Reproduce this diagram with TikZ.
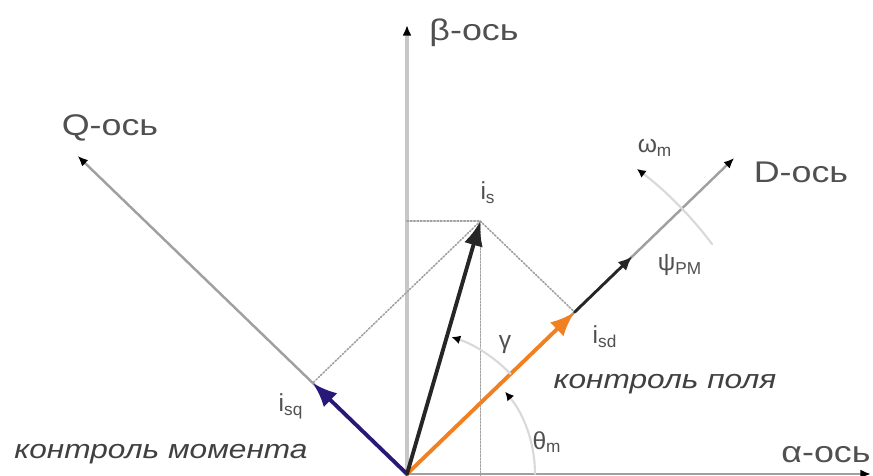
\documentclass[tikz,border=0pt]{standalone}
\usepackage{fontspec}
\setmainfont{Liberation Sans}
\usetikzlibrary{arrows.meta,calc}
\definecolor{isdorange}{RGB}{240,128,32}
\definecolor{isqnavy}{RGB}{40,24,120}
\definecolor{axisgray}{RGB}{160,160,160}
\definecolor{lblgray}{RGB}{80,80,80}

\begin{document}
\begin{tikzpicture}[x=0.02cm,y=0.02cm,line cap=round,line join=round,
  axis/.style={draw=axisgray,line width=1.4pt,-{Latex[black,length=6pt,width=5pt]}},
  vec/.style={line width=2.2pt,-{Latex[length=14pt,width=11pt]}},
  proj/.style={draw=axisgray,line width=0.9pt,densely dotted},
  turn/.style={draw=black!15,line width=1.2pt,-{Latex[black,length=5pt,width=5pt]}},
  axlbl/.style={text=lblgray,font=\fontsize{17}{17}\selectfont,xscale=1.2},
  sublbl/.style={text=lblgray,font=\fontsize{14}{14}\selectfont},
  note/.style={text=black!75,font=\fontsize{15}{15}\selectfont\itshape,xscale=1.2}]
\useasboundingbox (-407,-2) rectangle (466,474);

% axes
\coordinate (O) at (0,0);
\coordinate (bot) at (0,-2);
\coordinate (beta) at (0,449);
\coordinate (alpha) at (464,0);
\coordinate (D) at (44:455);
\coordinate (Q) at (136:458);

\draw[axis,line width=1.8pt,draw=black!22] (bot) -- (beta);
\draw[axis] (O) -- (alpha);
\draw[axis] (O) -- (D);
\draw[axis] (O) -- (Q);

% current vectors
\coordinate (isd) at (44:233);
\coordinate (isq) at (136:131);
\coordinate (is) at ($(isd)+(isq)$);
\coordinate (psi) at (44:313);

\draw[proj] (beta |- is) -- (is);
\draw[proj] (is) -- (is |- bot);
\draw[proj] (is) -- (isd);
\draw[proj] (is) -- (isq);

\draw[line width=1.6pt,black!85,-{Latex[length=8pt,width=7pt]}] (isd) -- (psi);
\draw[vec,isqnavy] (O) -- (isq);
\draw[vec,isdorange] (O) -- (isd);
\draw[vec,black!85] (O) -- (is);

% angles
\draw[turn] (37:382) arc[start angle=37,end angle=53,radius=382];
\draw[turn] (44:144) arc[start angle=44,end angle=72,radius=144];
\draw[turn] (0:128) arc[start angle=0,end angle=40,radius=128];

% labels
\node[axlbl] (betalbl) at (67,441) {β-ось};
\node[axlbl] (qlbl) at (-297,346) {Q-ось};
\node[axlbl] (dlbl) at (394,302) {D-ось};
\node[axlbl] (alphalbl) at (419,19) {α-ось};

\node[sublbl] (islbl) at (81,281) {i\textsubscript{s}};
\node[sublbl] (isdlbl) at (198,137) {i\textsubscript{sd}};
\node[sublbl] (isqlbl) at (-116,68) {i\textsubscript{sq}};
\node[sublbl] (psilbl) at (273,209) {ψ\textsubscript{PM}};
\node[sublbl] (omegalbl) at (248,326) {ω\textsubscript{m}};
\node[sublbl] (gammalbl) at (98,129) {γ};
\node[sublbl] (thetalbl) at (140,32) {θ\textsubscript{m}};

\node[note] (fieldlbl) at (258,90) {контроль поля};
\node[note] (torquelbl) at (-246,20) {контроль момента};
\end{tikzpicture}
\end{document}
